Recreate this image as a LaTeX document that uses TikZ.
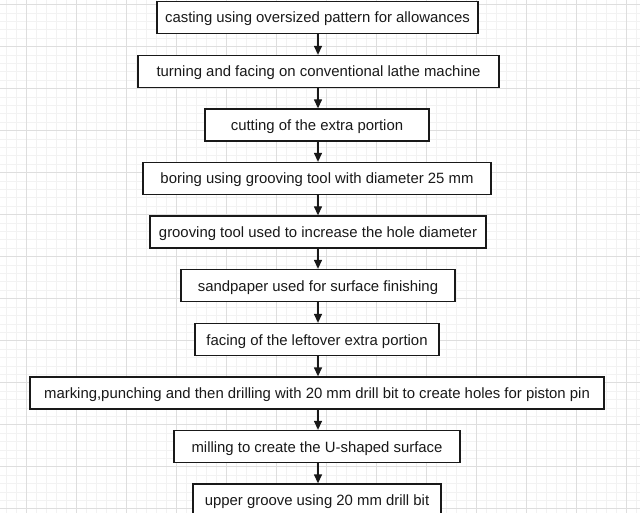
\documentclass[tikz,border=0pt]{standalone}
\usepackage{fontspec}
\setmainfont{Liberation Sans}
\usetikzlibrary{arrows.meta}
\definecolor{gridmajor}{HTML}{DEDEDE}
\definecolor{gridminor}{HTML}{F2F2F2}
\tikzset{
  stepbox/.style={draw=black!90, line width=1.3pt, fill=white, rectangle, inner sep=0pt,
    minimum height=32pt, text height=12.5pt, text depth=1.5pt,
    font=\fontsize{14.9}{17}\selectfont, text=black!90},
  flow/.style={line width=1.3pt, draw=black!90, -{Triangle[length=9pt,width=8pt]}},
  gminor/.style={gridminor, line width=0.8pt},
  gmajor/.style={gridmajor, line width=1pt}
}
\begin{document}
\begin{tikzpicture}[x=1pt,y=-1pt]
\fill[white] (0,0) rectangle (640,513);
\useasboundingbox (0,0) rectangle (640,513);
\foreach \x in {6,16,...,636} \draw[gminor] (\x,0) -- (\x,513);
\foreach \k in {0,...,61} \draw[gminor] (0,4.7+8.4*\k) -- (640,4.7+8.4*\k);
\foreach \x in {26,76,...,626} \draw[gmajor] (\x,0) -- (\x,513);
\foreach \k in {0,...,12} \draw[gmajor] (0,4.7+42*\k) -- (640,4.7+42*\k);
\node[stepbox, minimum width=321pt] (b1) at (317.5,17.5) {casting using oversized pattern for allowances};
\node[stepbox, minimum width=361pt] (b2) at (318.5,71.5) {turning and facing on conventional lathe machine};
\node[stepbox, minimum width=224pt] (b3) at (317,125) {cutting of the extra portion};
\node[stepbox, minimum width=348pt] (b4) at (317,178.5) {boring using grooving tool with diameter 25 mm};
\node[stepbox, minimum width=336pt] (b5) at (318,232) {grooving tool used to increase the hole diameter};
\node[stepbox, minimum width=274pt] (b6) at (318,285.5) {sandpaper used for surface finishing};
\node[stepbox, minimum width=244pt] (b7) at (317,339.5) {facing of the leftover extra portion};
\node[stepbox, minimum width=574pt] (b8) at (317,393) {marking,punching and then drilling with 20 mm drill bit to create holes for piston pin};
\node[stepbox, minimum width=286pt] (b9) at (317,446.5) {milling to create the U-shaped surface};
\node[stepbox, minimum width=248pt] (b10) at (317,500) {upper groove using 20 mm drill bit};
\foreach \a/\b in {b1/b2,b2/b3,b3/b4,b4/b5,b5/b6,b6/b7,b7/b8,b8/b9,b9/b10}
  \draw[flow] (\a.south -| 318,0) -- (\b.north -| 318,0);
\end{tikzpicture}
\end{document}
